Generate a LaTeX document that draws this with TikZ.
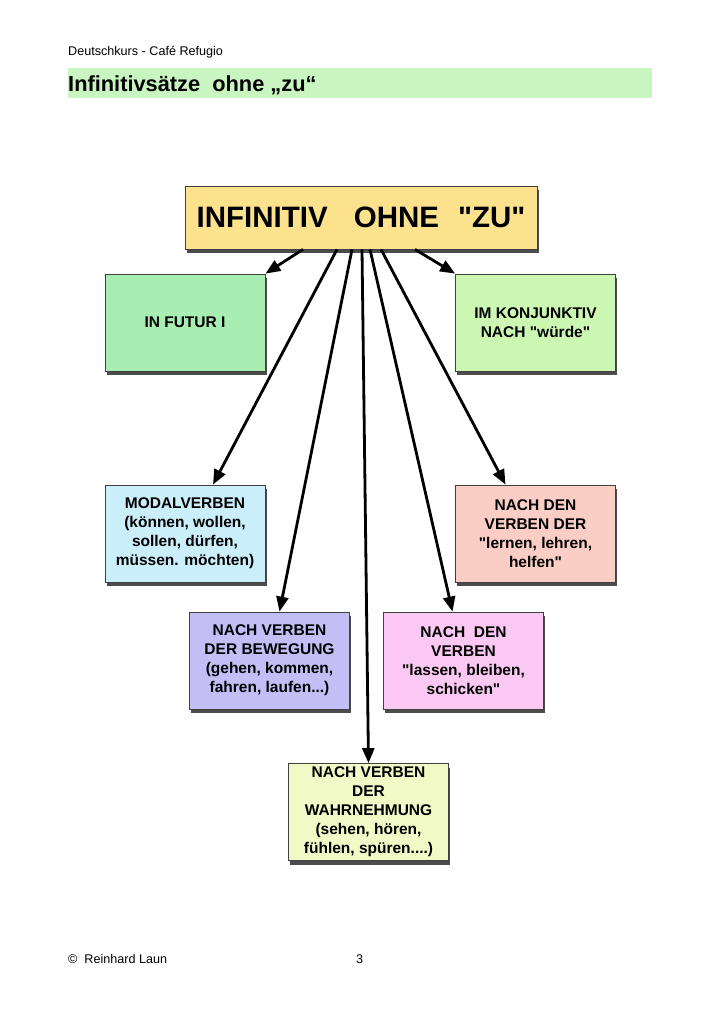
\documentclass[tikz,border=0pt]{standalone}
\usepackage{fontspec}
\setmainfont{Liberation Sans}
\usetikzlibrary{arrows.meta,shadows}

\definecolor{bandgreen}{HTML}{C9F5C1}
\definecolor{mainyellow}{HTML}{FDE28E}
\definecolor{futurgreen}{HTML}{A8EEB2}
\definecolor{konjgreen}{HTML}{CBF7B2}
\definecolor{modalblue}{HTML}{CBEEFB}
\definecolor{lernenrose}{HTML}{FBCEC5}
\definecolor{beweglila}{HTML}{C4BEF7}
\definecolor{lassenpink}{HTML}{FBC8F3}
\definecolor{wahrgelb}{HTML}{F1F9C6}
\newcommand{\gf}{\textquotedbl}

\begin{document}
\begin{tikzpicture}[x=1pt,y=-1pt,
    box/.style={draw=black!75,line width=0.8pt,minimum width=160pt,minimum height=97pt,
      align=center,inner sep=2pt,font=\fontsize{15.5}{19}\selectfont\bfseries,
      drop shadow={shadow xshift=1.5pt,shadow yshift=-4pt,fill=black!70,opacity=1}},
    pfeil/.style={line width=2.8pt,-{Triangle[length=15pt,width=12pt]}}]
    \useasboundingbox (0,0) rectangle (720,1018);

    % Kopfzeile
    \node[anchor=base west,inner sep=0,font=\fontsize{12.6}{15}\selectfont] (kopf) at (68,55) {Deutschkurs - Café Refugio};
    \fill[bandgreen] (68,68) rectangle (652,98);
    \node[anchor=base west,inner sep=0,font=\fontsize{21.8}{25}\selectfont\bfseries] (titel) at (68,91) {Infinitivsätze\ \ ohne „zu“};

    % Kasten
    \node[box,fill=mainyellow,minimum width=352pt,minimum height=63pt,font=\fontsize{29.5}{34}\selectfont\bfseries] (main) at (361,217.5) {INFINITIV\hspace{26pt}OHNE\hspace{19pt}\gf ZU\gf};
    \node[box,fill=futurgreen] (futur) at (185,322.5) {IN FUTUR I};
    \node[box,fill=konjgreen] (konj) at (535.5,322.5) {IM KONJUNKTIV\\NACH \gf würde\gf};
    \node[box,fill=modalblue] (modal) at (185,533.5) {MODALVERBEN\\(können, wollen,\\sollen, dürfen,\\müssen. möchten)};
    \node[box,fill=lernenrose] (lernen) at (535.5,533.5) {NACH DEN\\VERBEN DER\\\gf lernen, lehren,\\helfen\gf};
    \node[box,fill=beweglila] (beweg) at (269.5,660.5) {NACH VERBEN\\DER BEWEGUNG\\(gehen, kommen,\\fahren, laufen...)};
    \node[box,fill=lassenpink] (lassen) at (463.5,660.5) {NACH\ \ DEN\\VERBEN\\\gf lassen, bleiben,\\schicken\gf};
    \node[box,fill=wahrgelb] (wahr) at (368.5,812) {NACH VERBEN\\DER\\WAHRNEHMUNG\\(sehen, hören,\\fühlen, spüren....)};

    % Pfeile
    \draw[pfeil] ([xshift=-58pt]main.south) -- (futur.north east);
    \draw[pfeil] ([xshift=54pt]main.south) -- (konj.north west);
    \draw[pfeil] ([xshift=-24pt]main.south) -- ([xshift=28pt]modal.north);
    \draw[pfeil] ([xshift=-9pt]main.south) -- ([xshift=10pt]beweg.north);
    \draw[pfeil] ([xshift=1pt]main.south) -- (wahr.north);
    \draw[pfeil] ([xshift=9pt]main.south) -- ([xshift=-11pt]lassen.north);
    \draw[pfeil] ([xshift=20pt]main.south) -- ([xshift=-30pt]lernen.north);

    % Fusszeile
    \node[anchor=base west,inner sep=0,font=\fontsize{12.6}{15}\selectfont] (autor) at (68,963) {©\ \ Reinhard Laun};
    \node[anchor=base west,inner sep=0,font=\fontsize{12.6}{15}\selectfont] (seite) at (356,963) {3};
\end{tikzpicture}
\end{document}
